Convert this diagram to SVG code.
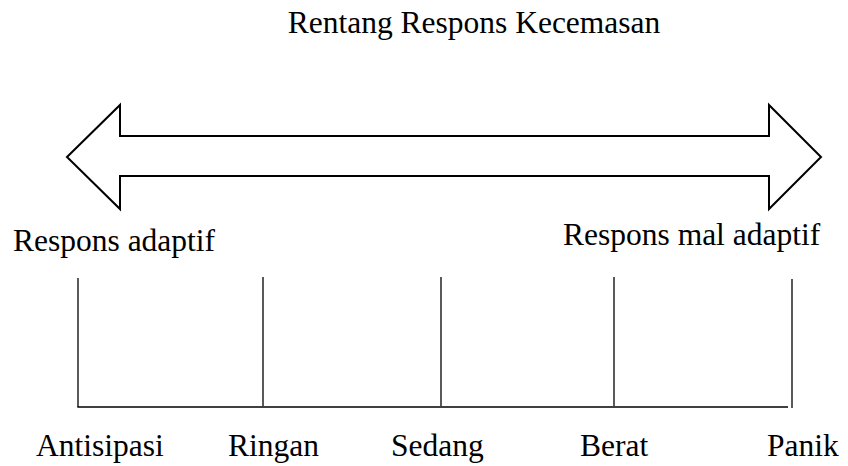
<svg xmlns="http://www.w3.org/2000/svg" width="848" height="466" viewBox="0 0 848 466">
<style>
text{font-family:"Liberation Serif","Times New Roman",serif;font-size:31.5px;fill:#000}
.ln{stroke:#000;stroke-width:1.3;fill:none}
.arr{stroke:#000;stroke-width:2;fill:#fff;stroke-linejoin:miter}
</style>
<rect width="848" height="466" fill="#fff"/>
<g id="title"><text x="474" y="32.5" text-anchor="middle">Rentang Respons Kecemasan</text></g>
<g id="arrow"><polygon class="arr" points="67,157 120,105 120,136 769,136 769,105 821,157 769,209 769,176 120,176 120,209"/></g>
<g id="adaptif"><text x="13" y="251">Respons adaptif</text></g>
<g id="maladaptif"><text x="563" y="245">Respons mal adaptif</text></g>
<g id="connectors">
<line class="ln" x1="78" y1="278" x2="78" y2="407"/>
<line class="ln" x1="263" y1="277" x2="263" y2="406"/>
<line class="ln" x1="441" y1="277" x2="441" y2="406"/>
<line class="ln" x1="614" y1="277" x2="614" y2="406"/>
<line class="ln" x1="792" y1="279" x2="792" y2="408"/>
<line class="ln" x1="77.4" y1="407" x2="788" y2="407"/>
</g>
<g id="antisipasi"><text x="36" y="456">Antisipasi</text></g>
<g id="ringan"><text x="228" y="456">Ringan</text></g>
<g id="sedang"><text x="391" y="456">Sedang</text></g>
<g id="berat"><text x="580" y="456">Berat</text></g>
<g id="panik"><text x="767" y="456">Panik</text></g>
</svg>
